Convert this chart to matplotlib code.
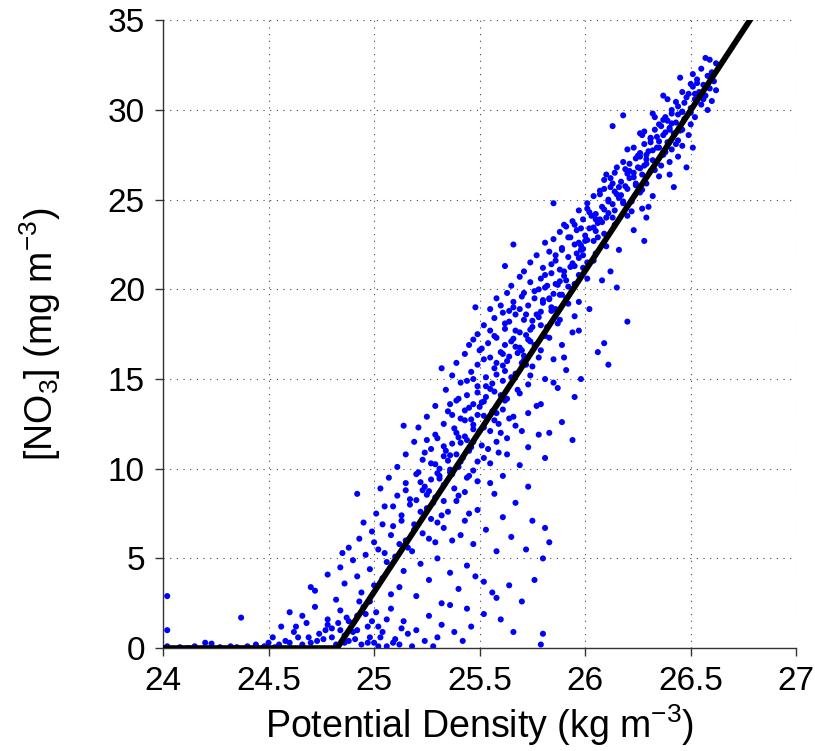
import matplotlib
matplotlib.use("Agg")
import matplotlib.pyplot as plt
import numpy as np

plt.rcParams['font.family'] = ['Liberation Sans', 'DejaVu Sans']
plt.rcParams['mathtext.fontset'] = 'custom'
plt.rcParams['mathtext.rm'] = 'Liberation Sans'
plt.rcParams['mathtext.it'] = 'Liberation Sans'

# fitted relation: zero below the threshold density, linear above it
fit_density = [24.0, 24.825, 26.78]
fit_no3 = [0.0, 0.0, 35.0]

top_points = [
    (26.57, 32.9), (26.59, 32.8), (26.62, 32.6), (26.55, 32.3), (26.60, 32.1),
    (26.58, 31.9), (26.53, 31.7), (26.61, 31.6), (26.56, 31.4), (26.51, 31.3),
    (26.59, 31.2), (26.54, 31.0), (26.49, 30.9), (26.57, 30.8), (26.52, 30.6),
    (26.60, 30.5), (26.47, 30.4), (26.55, 30.3), (26.50, 30.1), (26.44, 30.2),
    (26.58, 30.0), (26.53, 31.5), (26.56, 30.6), (26.48, 30.7), (26.62, 31.1),
    (26.46, 29.9), (26.41, 29.8), (26.52, 29.6), (26.38, 29.6), (26.47, 29.5),
    (26.43, 29.3), (26.35, 29.2), (26.50, 29.2), (26.40, 29.0), (26.46, 28.9),
    (26.33, 28.9), (26.42, 28.7), (26.37, 28.6), (26.49, 28.6), (26.31, 28.4),
    (26.44, 28.3), (26.39, 28.2), (26.28, 28.1), (26.46, 28.0), (26.35, 27.9),
    (26.41, 27.8), (26.51, 27.9), (26.30, 27.7), (26.26, 27.6), (26.37, 27.5),
    (26.44, 27.4), (26.24, 27.3), (26.32, 27.2), (26.40, 27.1), (26.21, 27.0),
    (26.29, 27.0), (26.36, 26.9), (26.48, 26.8), (26.18, 29.7), (26.13, 29.1),
    (26.34, 28.5), (26.29, 27.5), (26.39, 29.4), (26.43, 28.1), (26.27, 28.6),
]

upper_points = [
    (26.25, 26.8), (26.19, 26.7), (26.31, 26.6), (26.14, 26.5), (26.27, 26.4),
    (26.35, 26.3), (26.21, 26.2), (26.10, 26.4), (26.17, 26.0), (26.29, 25.9),
    (26.24, 25.8), (26.40, 26.4), (26.42, 25.7), (26.12, 25.7), (26.20, 25.6),
    (26.07, 25.5), (26.26, 25.4), (26.15, 25.3), (26.32, 25.2), (26.04, 25.2),
    (26.11, 25.0), (26.22, 24.9), (26.18, 24.8), (26.01, 24.8), (26.08, 24.6),
    (26.27, 24.5), (26.14, 24.4), (25.97, 24.4), (26.05, 24.2), (26.20, 24.1),
    (26.10, 24.0), (25.85, 24.8), (26.30, 24.6), (26.16, 25.1), (26.09, 26.1),
    (26.23, 26.5), (26.02, 24.3), (26.13, 25.9), (26.29, 24.0),
    (25.99, 23.9), (25.94, 23.8), (26.06, 23.7), (25.91, 23.5), (26.14, 23.6),
    (26.02, 23.4), (25.96, 23.3), (26.23, 23.3), (25.88, 23.2), (26.09, 23.1),
    (26.00, 23.0), (25.93, 22.9), (25.85, 22.8), (26.04, 22.7), (26.28, 22.7),
    (25.81, 22.6), (25.95, 22.5), (25.66, 22.5), (26.10, 22.4), (25.89, 22.3),
    (25.98, 22.2), (25.83, 22.1), (26.05, 22.0), (25.77, 21.9), (25.92, 21.8),
    (25.86, 21.6), (26.01, 21.5), (25.74, 21.5), (25.95, 21.3), (25.62, 21.3),
    (25.80, 21.2), (26.12, 21.0), (25.88, 21.1), (25.71, 21.0), (26.07, 23.9),
    (25.97, 22.6), (25.84, 21.4), (26.16, 22.2), (25.90, 23.6),
]

middle_points = [
    (25.84, 20.9), (25.97, 20.8), (25.69, 20.7), (25.79, 20.6), (26.08, 20.5),
    (25.91, 20.5), (25.74, 20.4), (25.86, 20.3), (25.65, 20.2), (25.81, 20.1),
    (26.15, 20.1), (25.94, 20.0), (25.76, 19.9), (25.63, 19.8), (25.88, 19.7),
    (25.70, 19.6), (25.58, 19.5), (25.80, 19.4), (25.66, 19.3), (25.92, 19.2),
    (25.73, 19.1), (25.48, 19.0), (25.55, 18.9), (25.69, 18.9), (25.84, 18.8),
    (25.61, 18.7), (25.77, 18.6), (25.95, 18.5), (25.57, 18.4), (25.71, 18.3),
    (26.20, 18.2), (25.64, 18.2), (25.87, 18.1), (25.52, 18.0), (25.78, 20.0),
    (25.60, 19.1), (25.83, 19.5), (25.67, 18.6),
    (25.75, 17.9), (25.62, 17.8), (25.97, 17.7), (25.69, 17.6), (25.49, 17.5),
    (25.81, 17.4), (25.58, 17.3), (25.73, 17.2), (26.09, 17.0), (25.54, 17.0),
    (25.65, 17.1), (25.89, 16.9), (25.45, 16.9), (26.06, 16.5), (25.67, 16.8),
    (25.51, 16.7), (25.79, 16.6), (25.60, 16.5), (25.43, 16.4), (25.71, 16.3),
    (25.55, 16.2), (25.85, 16.1), (25.63, 16.0), (25.39, 15.9), (25.49, 15.8),
    (26.11, 15.8), (25.75, 15.7), (25.57, 15.6), (25.32, 15.6), (25.91, 15.5),
    (25.46, 15.4), (25.67, 15.3), (25.37, 15.2), (25.53, 15.1), (25.81, 15.0),
    (25.98, 15.0), (25.61, 16.4), (25.47, 17.2), (25.70, 15.9),
]

lower_points = [
    (25.61, 14.9), (25.41, 14.8), (25.73, 14.7), (25.49, 14.6), (25.87, 14.5),
    (25.34, 14.4), (25.57, 14.3), (25.69, 14.2), (25.44, 14.1), (25.95, 14.0),
    (25.63, 13.9), (25.39, 13.8), (25.51, 13.7), (25.79, 13.6), (25.29, 13.5),
    (25.45, 13.4), (25.61, 13.3), (25.35, 13.2), (25.73, 13.1), (25.49, 13.0),
    (25.25, 12.9), (25.66, 12.9), (25.41, 12.8), (25.57, 12.7), (25.89, 12.6),
    (25.33, 12.5), (25.67, 12.4), (25.14, 12.4), (25.21, 12.3), (25.47, 12.2),
    (25.55, 12.1), (25.83, 12.0), (25.53, 14.0), (25.37, 13.0), (25.59, 12.5),
    (25.29, 11.9), (25.78, 11.9), (25.43, 11.8), (25.63, 11.7), (25.94, 11.6),
    (25.19, 11.5), (25.37, 11.4), (25.51, 11.3), (25.73, 11.2), (25.27, 11.1),
    (25.45, 11.0), (25.59, 10.9), (25.15, 10.8), (25.33, 10.7), (25.81, 10.6),
    (25.23, 10.5), (25.41, 10.4), (25.55, 10.3), (25.69, 10.2), (25.11, 10.1),
    (25.31, 10.0), (25.47, 9.9), (25.21, 9.8), (25.37, 9.7), (25.61, 9.6),
    (25.07, 9.5), (25.27, 9.4), (25.49, 9.3), (25.15, 9.2), (25.33, 9.1),
    (25.73, 9.0), (25.39, 10.8), (25.25, 11.6),
    (25.03, 8.9), (25.23, 8.8), (25.43, 8.7), (25.57, 8.6), (24.92, 8.6),
    (25.11, 8.5), (25.29, 8.4), (25.39, 8.2), (25.67, 8.1), (25.17, 8.0),
    (25.05, 7.9), (25.25, 7.8), (25.49, 7.7), (25.35, 7.6), (25.01, 7.5),
    (25.13, 7.4), (25.61, 7.3), (25.27, 7.2), (25.43, 7.1), (25.75, 7.1),
    (24.95, 7.0), (25.19, 6.9), (25.09, 6.8), (25.33, 6.7), (25.81, 6.7),
    (25.53, 6.6), (24.99, 6.5), (25.23, 6.4), (25.41, 6.3), (25.65, 6.2),
    (24.93, 6.1), (25.15, 6.0), (25.29, 5.9), (25.83, 5.9), (25.47, 5.8),
]

# dense band hugging the left side of the fitted line
core_points = [
    (25.20, 8.25), (25.26, 8.75), (25.22, 9.25), (25.30, 9.75), (25.29, 10.25),
    (25.36, 10.75), (25.33, 11.25), (25.40, 11.75), (25.38, 12.25), (25.46, 12.75),
    (25.43, 13.25), (25.52, 13.75), (25.49, 14.25), (25.56, 14.75), (25.58, 15.25),
    (25.61, 15.75), (25.64, 16.25), (25.69, 16.75), (25.66, 17.25), (25.74, 17.75),
    (25.75, 18.25), (25.79, 18.75), (25.80, 19.25), (25.85, 19.75), (25.87, 20.25),
    (25.90, 20.75), (25.93, 21.25), (25.97, 21.75), (25.99, 22.25), (26.01, 22.75),
    (26.05, 23.25), (26.08, 23.75), (26.11, 24.25), (26.13, 24.75), (26.17, 25.25),
    (26.19, 25.75), (26.23, 26.25), (26.26, 26.75), (26.29, 27.25), (26.32, 27.75),
    (26.35, 28.25), (26.38, 28.75), (26.41, 29.25), (26.44, 29.75),
    (25.25, 8.55), (25.31, 9.45), (25.35, 10.45), (25.41, 11.45), (25.47, 12.45),
    (25.50, 13.45), (25.55, 14.45), (25.62, 15.45), (25.68, 16.45), (25.72, 17.45),
    (25.78, 18.45), (25.83, 19.45), (25.88, 20.45), (25.94, 21.45), (25.98, 22.45),
    (26.04, 23.45), (26.09, 24.45), (26.14, 25.45), (26.20, 26.45), (26.25, 27.45),
    (26.31, 28.45), (26.37, 29.45), (26.43, 30.45), (26.50, 31.45),
    (26.22, 24.35), (26.27, 25.55), (26.33, 26.65), (26.38, 27.65), (26.45, 28.85),
    (26.50, 29.85), (25.92, 20.15), (25.71, 16.05), (25.52, 12.95), (25.36, 9.95),
    (25.05, 5.3), (25.12, 5.8), (25.08, 6.3), (25.19, 6.6), (25.13, 7.1),
    (25.22, 7.6), (25.17, 8.3), (25.28, 8.1), (25.24, 9.0), (25.31, 9.6),
    (25.27, 10.3), (25.40, 10.1), (25.34, 11.0), (25.44, 11.6), (25.39, 12.0),
    (25.46, 11.2), (25.30, 11.7), (25.24, 10.9), (25.20, 9.7), (25.15, 8.8),
    (25.09, 7.9), (25.04, 6.9), (25.00, 5.9), (25.16, 5.6), (25.26, 6.1),
    (25.32, 7.4), (25.40, 8.5), (25.45, 9.6), (25.52, 10.6), (25.58, 11.5),
    (25.43, 12.7), (25.50, 12.1), (25.47, 13.6), (25.56, 13.2), (25.40, 13.9),
    (25.53, 14.6), (25.60, 14.1), (25.47, 15.0), (25.58, 15.9), (25.65, 15.1),
    (25.52, 16.1), (25.62, 16.9), (25.70, 16.6), (25.57, 17.4), (25.67, 17.7),
    (25.74, 17.1), (25.62, 18.1), (25.72, 18.6), (25.79, 18.0), (25.66, 19.0),
    (25.76, 19.5), (25.84, 19.0), (25.71, 19.8), (25.82, 20.2), (25.89, 19.7),
    (25.64, 18.8), (25.55, 17.7), (25.50, 16.6), (25.44, 14.9), (25.36, 13.6),
    (25.81, 20.8), (25.90, 21.0), (25.86, 21.9), (25.96, 22.0), (25.92, 22.9),
    (26.00, 22.7), (25.95, 23.6), (26.05, 23.9), (26.01, 24.5), (26.11, 24.9),
    (26.07, 25.3), (26.16, 25.7), (26.12, 26.2), (26.21, 26.6), (26.18, 27.1),
    (26.26, 27.4), (26.23, 27.9), (26.31, 28.2), (26.28, 28.8), (26.36, 29.1),
    (26.33, 29.6), (26.41, 30.0), (26.39, 30.6), (26.46, 31.0), (26.45, 31.8),
    (26.51, 32.0), (25.99, 21.9), (26.06, 22.9), (26.13, 24.0), (26.18, 24.9),
    (26.24, 25.9), (26.28, 26.9), (26.34, 27.9), (26.40, 28.9), (26.46, 29.9),
    (26.52, 30.9), (25.89, 22.2), (25.98, 23.4), (26.03, 24.1), (26.09, 25.6),
    (26.15, 26.8), (26.20, 27.8), (26.26, 28.7), (26.32, 29.8), (26.37, 30.8),
]

# samples just to the dense side (right) of the fitted line
right_points = [
    (25.33, 8.2), (25.38, 8.9), (25.36, 9.8), (25.44, 9.5), (25.42, 10.6),
    (25.49, 10.4), (25.47, 11.5), (25.54, 11.1), (25.52, 12.3), (25.60, 12.0),
    (25.58, 13.1), (25.64, 12.8), (25.62, 13.8), (25.68, 14.4), (25.66, 15.0),
    (25.74, 15.2), (25.72, 15.8), (25.78, 16.2), (25.76, 16.9), (25.83, 17.3),
    (25.82, 17.9), (25.88, 18.3), (25.86, 18.9), (25.91, 19.5), (25.97, 19.3),
    (25.95, 20.3), (26.01, 20.6), (25.99, 21.2), (26.04, 21.6), (25.30, 7.0),
    (25.37, 6.0), (25.45, 7.5), (25.55, 9.2), (25.63, 10.8), (25.70, 12.1),
    (25.77, 13.5), (25.85, 14.8), (25.90, 16.2), (25.94, 17.6), (26.02, 18.9),
]

bottom_points = [
    (24.88, 5.6), (25.02, 5.5), (25.18, 5.4), (24.85, 5.3), (24.96, 5.2),
    (25.10, 5.1), (25.30, 5.0), (24.90, 4.9), (25.06, 4.8), (25.22, 4.7),
    (25.44, 4.6), (24.84, 4.5), (24.98, 4.4), (25.14, 4.3), (25.36, 4.2),
    (24.78, 4.1), (24.92, 4.0), (25.04, 3.9), (25.26, 3.8), (25.52, 3.7),
    (24.86, 3.6), (25.00, 3.5), (25.12, 3.4), (25.40, 3.3), (24.72, 3.2),
    (24.94, 3.1), (25.08, 3.0), (25.20, 2.9), (25.58, 2.8), (24.82, 2.7),
    (24.98, 2.6), (25.32, 2.5), (25.64, 3.5), (25.70, 2.6), (25.48, 4.0),
    (25.56, 3.1), (24.70, 3.4), (25.72, 5.5), (25.58, 5.4), (25.80, 5.0),
    (25.76, 3.8),
    (24.60, 2.0), (24.66, 1.8), (24.72, 2.3), (24.78, 1.6), (24.84, 2.1),
    (24.90, 1.4), (24.96, 1.9), (25.02, 1.2), (25.08, 2.2), (25.14, 1.5),
    (25.20, 1.0), (25.26, 1.8), (25.32, 1.3), (25.38, 0.9), (24.56, 1.2),
    (24.62, 0.9), (24.68, 1.4), (24.74, 0.8), (24.80, 1.1), (24.86, 0.7),
    (24.92, 1.0), (24.98, 0.6), (25.04, 0.9), (25.10, 0.5), (25.16, 0.8),
    (25.24, 0.4), (25.30, 0.6), (25.46, 1.2), (25.52, 1.9), (25.60, 1.6),
    (25.66, 0.9), (24.52, 0.6), (24.58, 0.4), (24.64, 0.6), (24.70, 0.3),
    (24.76, 0.5), (24.82, 0.2), (24.88, 0.4), (24.94, 0.2), (25.00, 0.3),
    (25.06, 0.1), (25.12, 0.2), (25.18, 0.1), (25.28, 0.1), (25.42, 0.4),
    (25.36, 2.4), (25.44, 2.2), (25.80, 0.8), (25.79, 0.2),
    (24.87, 1.7), (24.93, 2.6), (25.01, 2.0), (24.77, 1.0), (24.69, 0.6),
    (24.83, 1.4), (25.06, 1.6), (24.97, 1.2), (24.91, 0.5), (25.13, 1.1),
    (24.80, 0.6), (24.84, 1.0), (24.88, 1.5), (24.92, 1.8), (24.95, 2.3),
    (24.99, 1.5), (25.03, 0.6), (24.86, 0.3), (24.90, 0.9), (24.78, 1.3),
    (24.73, 0.4), (24.66, 0.2), (24.60, 0.3), (24.55, 0.2), (24.63, 1.2),
    (24.97, 0.3), (25.02, 0.1), (25.09, 0.3),
]

# near-zero tail at light densities, plus the isolated points on the left
tail_points = [
    (24.02, 2.9), (24.02, 1.0), (24.37, 1.7),
    (24.02, 0.1), (24.08, 0.05), (24.15, 0.1), (24.20, 0.3), (24.23, 0.25),
    (24.27, 0.05), (24.32, 0.1), (24.40, 0.1), (24.44, 0.2), (24.48, 0.1),
    (24.50, 0.3), (24.53, 0.05), (24.35, 0.05), (24.12, 0.0),
]

all_points = (top_points + upper_points + middle_points + lower_points
              + core_points + right_points + bottom_points + tail_points)
density = np.array([p[0] for p in all_points])
no3 = np.array([p[1] for p in all_points])

fig = plt.figure(figsize=(8.15, 7.51), dpi=100)
ax = fig.add_axes([0.2, 0.137, 0.777, 0.836])

ax.scatter(density, no3, s=19, color='#0000ff', edgecolors='none', zorder=2)
ax.plot(fit_density, fit_no3, color='k', linewidth=4.2, zorder=3)

ax.set_xlim(24, 27)
ax.set_ylim(0, 35)
ax.set_xticks(np.arange(24, 27.01, 0.5))
ax.set_xticklabels(['24', '24.5', '25', '25.5', '26', '26.5', '27'])
ax.set_yticks(np.arange(0, 36, 5))

ax.grid(True, color='#444444', linestyle=(0, (1, 5)), linewidth=0.8, zorder=0)
for side in ['top', 'right']:
    ax.spines[side].set_visible(False)
for side in ['left', 'bottom']:
    ax.spines[side].set_color('#333333')
    ax.spines[side].set_linewidth(1.0)
ax.tick_params(labelsize=24, length=6, width=1.0, colors='#333333', labelcolor='k', pad=7)

ax.set_xlabel('Potential Density (kg m$^{-3}$)', fontsize=27, labelpad=4)
ax.set_ylabel('[NO$_3$] (mg m$^{-3}$)', fontsize=27, labelpad=32)

fig.savefig('out.png', dpi=100)
